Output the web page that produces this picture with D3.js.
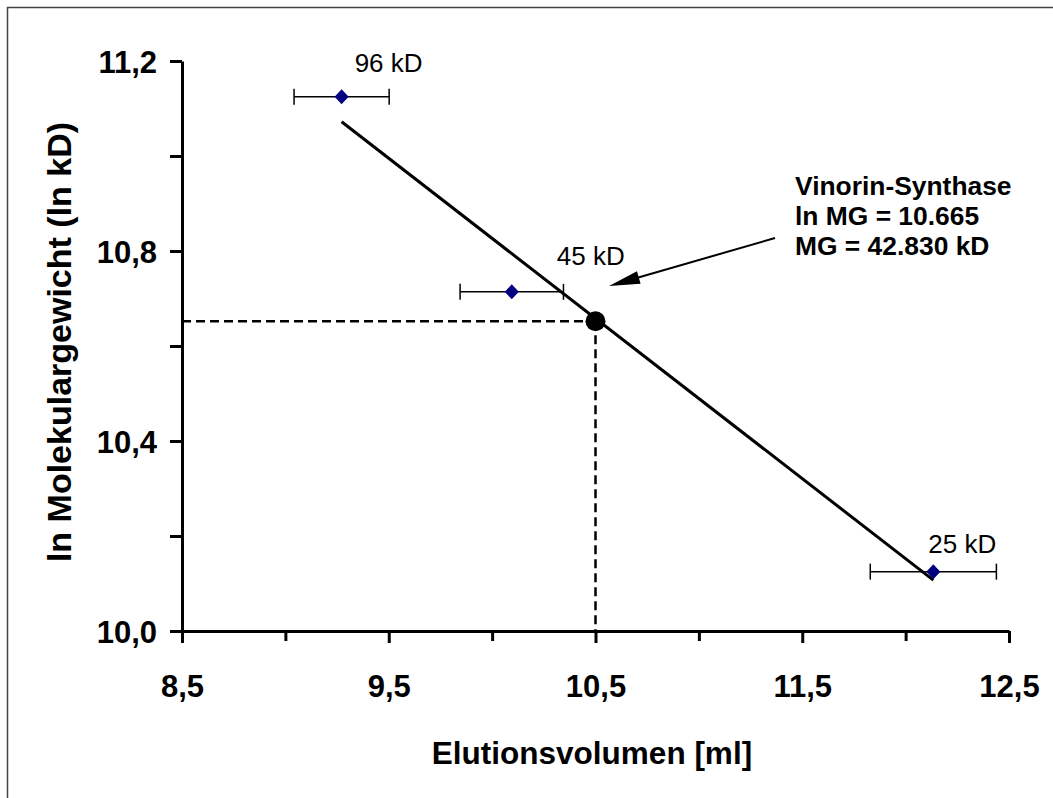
<!DOCTYPE html>
<html>
<head>
<meta charset="utf-8">
<script src="https://cdn.jsdelivr.net/npm/d3@7"></script>
<style>
  html, body { margin: 0; padding: 0; background: #fff; }
  svg { display: block; font-family: "Liberation Sans", Arial, sans-serif; }
</style>
</head>
<body>
<svg id="chart" width="1053" height="798"></svg>
<script>
// ---- data ----
const labels = ["96 kD", "45 kD", "25 kD"];
const elution = [9.272, 10.095, 12.134];
const lnMW = [11.125, 10.714, 10.125];
const errX = [0.23, 0.25, 0.305];
const fitX = [9.272, 12.134];
const fitY = [11.072, 10.107];
const sampleX = [10.5];
const sampleY = [10.652];
const annotation = ["Vinorin-Synthase", "ln MG = 10.665", "MG = 42.830 kD"];
const xMajor = [8.5, 9.5, 10.5, 11.5, 12.5];
const xMinor = [9.0, 10.0, 11.0, 12.0];
const yMajor = [10.0, 10.4, 10.8, 11.2];
const yMinor = [10.2, 10.6, 11.0];
const xTitle = "Elutionsvolumen [ml]";
const yTitle = "ln Molekulargewicht (ln kD)";

const svg = d3.select("#chart");
const x = d3.scaleLinear().domain([8.5, 12.5]).range([182, 1009]);
const y = d3.scaleLinear().domain([10.0, 11.2]).range([631, 61]);
const fmt = d => d.toFixed(1).replace(".", ",");

// frame (top + left visible)
svg.append("path").attr("d", "M7.5,800 V7.5 H1060")
  .attr("fill", "none").attr("stroke", "#444").attr("stroke-width", 1.5);

// dashed guides
svg.append("line")
  .attr("x1", x(8.5)).attr("x2", x(sampleX[0]))
  .attr("y1", y(sampleY[0])).attr("y2", y(sampleY[0]))
  .attr("stroke", "#000").attr("stroke-width", 2.5).attr("stroke-dasharray", "9,5");
svg.append("line")
  .attr("x1", x(sampleX[0])).attr("x2", x(sampleX[0]))
  .attr("y1", y(sampleY[0])).attr("y2", y(10.0))
  .attr("stroke", "#000").attr("stroke-width", 2.5).attr("stroke-dasharray", "9,5");

// axes
function styleAxis(g) {
  g.select(".domain").attr("stroke", "#000").attr("stroke-width", 3);
  g.selectAll(".tick line").attr("stroke", "#000").attr("stroke-width", 3);
  g.selectAll(".tick text").attr("fill", "#000").attr("font-weight", "bold")
    .attr("font-size", 31).attr("font-family", "Liberation Sans, Arial, sans-serif");
}
const gx = svg.append("g").attr("transform", `translate(0,${y(10.0)})`)
  .call(d3.axisBottom(x).tickValues(xMajor).tickFormat(fmt).tickSize(12).tickPadding(32).tickSizeOuter(0));
styleAxis(gx);
const gxm = svg.append("g").attr("transform", `translate(0,${y(10.0)})`)
  .call(d3.axisBottom(x).tickValues(xMinor).tickFormat("").tickSize(10).tickSizeOuter(0));
styleAxis(gxm); gxm.select(".domain").remove();

const gy = svg.append("g").attr("transform", `translate(${x(8.5)},0)`)
  .call(d3.axisLeft(y).tickValues(yMajor).tickFormat(fmt).tickSize(12).tickPadding(13).tickSizeOuter(0));
styleAxis(gy);
gy.selectAll(".tick text").attr("dy", "0.36em");
const gym = svg.append("g").attr("transform", `translate(${x(8.5)},0)`)
  .call(d3.axisLeft(y).tickValues(yMinor).tickFormat("").tickSize(12).tickSizeOuter(0));
styleAxis(gym); gym.select(".domain").remove();

// regression line
svg.append("line")
  .attr("x1", x(fitX[0])).attr("y1", y(fitY[0]))
  .attr("x2", x(fitX[1])).attr("y2", y(fitY[1]))
  .attr("stroke", "#000").attr("stroke-width", 3);

// error bars
const pts = elution.map((v, i) => ({x: v, y: lnMW[i], e: errX[i], label: labels[i]}));
const eb = svg.append("g");
pts.forEach(p => {
  eb.append("line").attr("x1", x(p.x - p.e)).attr("x2", x(p.x + p.e))
    .attr("y1", y(p.y)).attr("y2", y(p.y)).attr("stroke", "#000").attr("stroke-width", 1.5);
  [p.x - p.e, p.x + p.e].forEach(v => {
    eb.append("line").attr("x1", x(v)).attr("x2", x(v))
      .attr("y1", y(p.y) - 8).attr("y2", y(p.y) + 8).attr("stroke", "#000").attr("stroke-width", 1.5);
  });
});

// diamonds
svg.append("g").selectAll("path").data(pts).join("path")
  .attr("transform", d => `translate(${x(d.x)},${y(d.y)})`)
  .attr("d", "M0,-7.5 L7,0 L0,7.5 L-7,0 Z")
  .attr("fill", "#000080");

// point labels
const labelOffsets = [[47, -25], [79, -27], [29, -19]];
svg.append("g").selectAll("text").data(pts).join("text")
  .attr("x", (d, i) => x(d.x) + labelOffsets[i][0])
  .attr("y", (d, i) => y(d.y) + labelOffsets[i][1])
  .attr("text-anchor", "middle")
  .attr("font-size", 26)
  .attr("fill", "#000")
  .text(d => d.label);

// sample dot
svg.append("circle").attr("cx", x(sampleX[0])).attr("cy", y(sampleY[0])).attr("r", 10).attr("fill", "#000");

// arrow
const ax0 = 775, ay0 = 238, ax1 = 609, ay1 = 286;
svg.append("line").attr("x1", ax0).attr("y1", ay0).attr("x2", ax1 + 25).attr("y2", ay1 - 7.2)
  .attr("stroke", "#000").attr("stroke-width", 2);
{
  const ang = Math.atan2(ay1 - ay0, ax1 - ax0);
  const L = 31, W = 6.5;
  const bx = ax1 - L * Math.cos(ang), by = ay1 - L * Math.sin(ang);
  const px = -Math.sin(ang), py = Math.cos(ang);
  svg.append("path")
    .attr("d", `M${ax1},${ay1} L${bx + W * px},${by + W * py} L${bx - W * px},${by - W * py} Z`)
    .attr("fill", "#000");
}

// annotation
const ann = svg.append("text").attr("font-size", 26.4).attr("font-weight", "bold").attr("fill", "#000");
annotation.forEach((t, i) => {
  ann.append("tspan").attr("x", 795).attr("y", 195 + i * 30).text(t);
});

// axis titles
svg.append("text").attr("x", 592).attr("y", 764).attr("text-anchor", "middle")
  .attr("font-size", 31.5).attr("font-weight", "bold").attr("fill", "#000").text(xTitle);
svg.append("text").attr("transform", "translate(71,342) rotate(-90)").attr("text-anchor", "middle")
  .attr("font-size", 34).attr("font-weight", "bold").attr("fill", "#000").text(yTitle);
</script>
</body>
</html>
